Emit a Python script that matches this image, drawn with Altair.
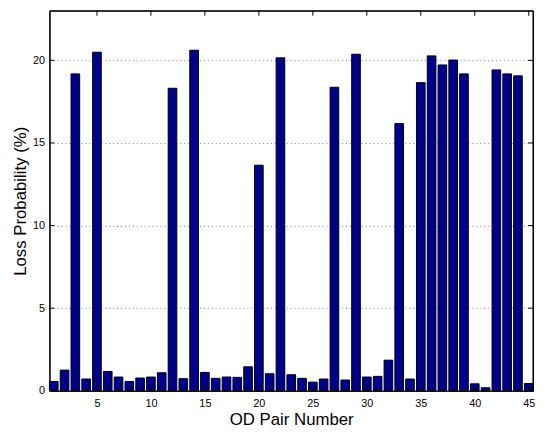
import altair as alt
import pandas as pd

pair_numbers = list(range(1, 46))
loss_probability = [0.56, 1.25, 19.18, 0.71, 20.49, 1.17, 0.83, 0.56, 0.77, 0.83,
                    1.09, 18.31, 0.73, 20.61, 1.11, 0.75, 0.83, 0.81, 1.45, 13.65,
                    1.03, 20.15, 0.97, 0.75, 0.52, 0.71, 18.37, 0.65, 20.37, 0.83,
                    0.87, 1.85, 16.17, 0.71, 18.65, 20.27, 19.72, 20.02, 19.18, 0.42,
                    0.18, 19.42, 19.18, 19.06, 0.44]
x_ticks = [5, 10, 15, 20, 25, 30, 35, 40, 45]
y_ticks = [0, 5, 10, 15, 20]

W, H = 490, 385
FONT = "Liberation Sans"

df = pd.DataFrame({"n": pair_numbers, "v": loss_probability})
xt = pd.DataFrame({"t": x_ticks})
yt = pd.DataFrame({"t": y_ticks})

xscale = alt.Scale(domain=[0.6, 45.4], nice=False, zero=False)
yscale = alt.Scale(domain=[0, 23], nice=False)

bars = alt.Chart(df).transform_calculate(
    x0="datum.n - 0.4", x1="datum.n + 0.4"
).mark_bar(color="#00008F", stroke="black", strokeWidth=1).encode(
    x=alt.X("x0:Q", scale=xscale,
            axis=alt.Axis(values=x_ticks, title="OD Pair Number", ticks=False, tickSize=0,
                          domain=True, domainColor="black", domainWidth=1.2,
                          grid=False, labelPadding=7, titlePadding=3,
                          labelFontSize=11, titleFontSize=17, titleFontWeight="normal",
                          labelFont=FONT, titleFont=FONT, labelColor="black", titleColor="black")),
    x2="x1:Q",
    y=alt.Y("v:Q", scale=yscale,
            axis=alt.Axis(values=y_ticks, title="Loss Probability (%)", ticks=False, tickSize=0,
                          domain=True, domainColor="black", domainWidth=1.2,
                          grid=True, gridDash=[1, 3], gridColor="#888888",
                          gridWidth=1, labelPadding=5, titlePadding=3,
                          labelFontSize=11, titleFontSize=17, titleFontWeight="normal",
                          labelFont=FONT, titleFont=FONT, labelColor="black", titleColor="black")),
    y2=alt.datum(0),
)

frame_top = alt.Chart().mark_rule(color="black", strokeWidth=1.2).encode(
    x=alt.value(0), x2=alt.value(W), y=alt.value(0))
frame_right = alt.Chart().mark_rule(color="black", strokeWidth=1.2).encode(
    x=alt.value(W), y=alt.value(0), y2=alt.value(H))

tick_bottom = alt.Chart(xt).mark_rule(color="black", strokeWidth=1).encode(
    x=alt.X("t:Q", scale=xscale), y=alt.value(H), y2=alt.value(H - 5))
tick_top = alt.Chart(xt).mark_rule(color="black", strokeWidth=1).encode(
    x=alt.X("t:Q", scale=xscale), y=alt.value(0), y2=alt.value(5))
tick_left = alt.Chart(yt).mark_rule(color="black", strokeWidth=1).encode(
    y=alt.Y("t:Q", scale=yscale), x=alt.value(0), x2=alt.value(5))
tick_right = alt.Chart(yt).mark_rule(color="black", strokeWidth=1).encode(
    y=alt.Y("t:Q", scale=yscale), x=alt.value(W), x2=alt.value(W - 5))

chart = alt.layer(bars, tick_bottom, tick_top, tick_left, tick_right,
                  frame_top, frame_right).properties(
    width=W, height=H,
    background="white",
    autosize=alt.AutoSizeParams(type="none"),
    padding={"left": 42, "top": 0, "right": 4, "bottom": 40},
).configure_view(stroke="black", strokeWidth=1)

chart.save("out.html", embed_options={"renderer": "svg", "actions": False})
